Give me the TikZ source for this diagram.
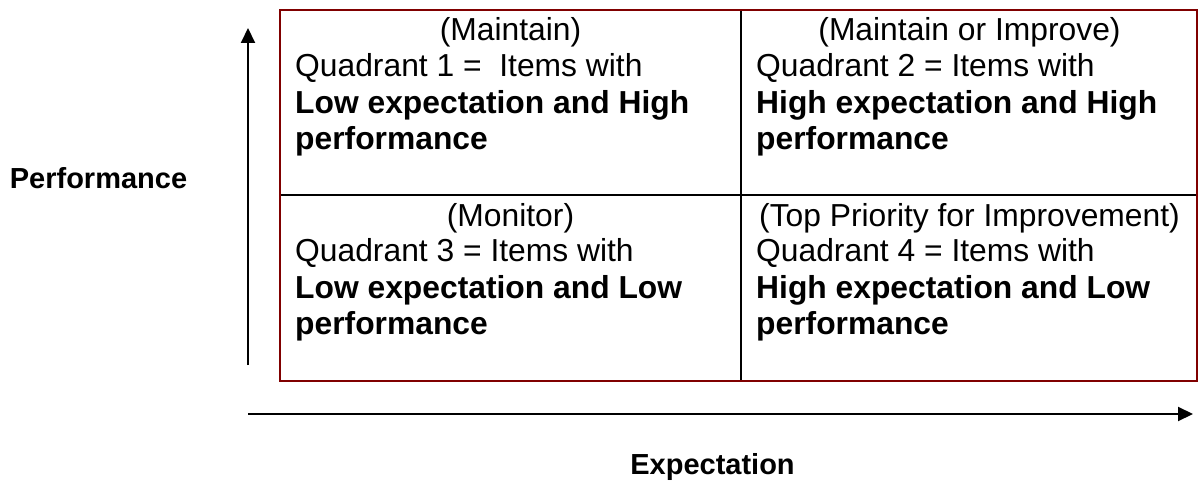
\documentclass[tikz,border=0pt]{standalone}
\usepackage{fontspec}
\setmainfont{Liberation Sans}
\usetikzlibrary{arrows.meta}
\definecolor{boxred}{HTML}{800000}
\begin{document}
\begin{tikzpicture}[x=1pt,y=1pt,
  celltxt/.style={inner sep=0pt,font=\fontsize{31.8}{36.4}\selectfont},
  title/.style={celltxt,anchor=base},
  line/.style={celltxt,anchor=base west},
  bline/.style={line,font=\fontsize{31.8}{36.4}\selectfont\bfseries},
  axlabel/.style={inner sep=0pt,anchor=base,font=\fontsize{29}{33}\selectfont\bfseries},
  axis/.style={line width=2pt,-{Triangle[width=14pt,length=15pt]}},
  divider/.style={line width=2pt,black},
  frame/.style={line width=2pt,draw=boxred}]
\useasboundingbox (0,0) rectangle (1198,480);
% grid (y = 480 - pixel y)
\coordinate (tl) at (280,470);
\coordinate (br) at (1197,99);
\coordinate (mt) at (741,470);
\coordinate (mb) at (741,99);
\coordinate (ml) at (280,285);
\coordinate (mr) at (1197,285);
\draw[divider] (mt) -- (mb);
\draw[divider] (ml) -- (mr);
\draw[frame] (tl) rectangle (br);
% axes
\coordinate (vs) at (248,115);
\coordinate (ve) at (248,452);
\coordinate (hs) at (248,66);
\coordinate (he) at (1193,66);
\draw[axis] (vs) -- (ve);
\draw[axis] (hs) -- (he);
\node[axlabel] (perf) at (98.5,292) {Performance};
\node[axlabel] (expe) at (712.5,6) {Expectation};
% Quadrant 1
\node[title] (q1t) at (510.5,439) {(Maintain)};
\node[line] (q1a) at (295,403) {Quadrant 1 =~ Items with};
\node[bline] (q1b) at (295,366.6) {Low expectation and High};
\node[bline] (q1c) at (295,330.2) {performance};
% Quadrant 2
\node[title] (q2t) at (969.5,439) {(Maintain or Improve)};
\node[line] (q2a) at (756,403) {Quadrant 2 = Items with};
\node[bline] (q2b) at (756,366.6) {High expectation and High};
\node[bline] (q2c) at (756,330.2) {performance};
% Quadrant 3
\node[title] (q3t) at (510.5,253.3) {(Monitor)};
\node[line] (q3a) at (295,218.3) {Quadrant 3 = Items with};
\node[bline] (q3b) at (295,181.7) {Low expectation and Low};
\node[bline] (q3c) at (295,145.3) {performance};
% Quadrant 4
\node[title] (q4t) at (969.5,253.3) {(Top Priority for Improvement)};
\node[line] (q4a) at (756,218.3) {Quadrant 4 = Items with};
\node[bline] (q4b) at (756,181.7) {High expectation and Low};
\node[bline] (q4c) at (756,145.3) {performance};
\end{tikzpicture}
\end{document}
